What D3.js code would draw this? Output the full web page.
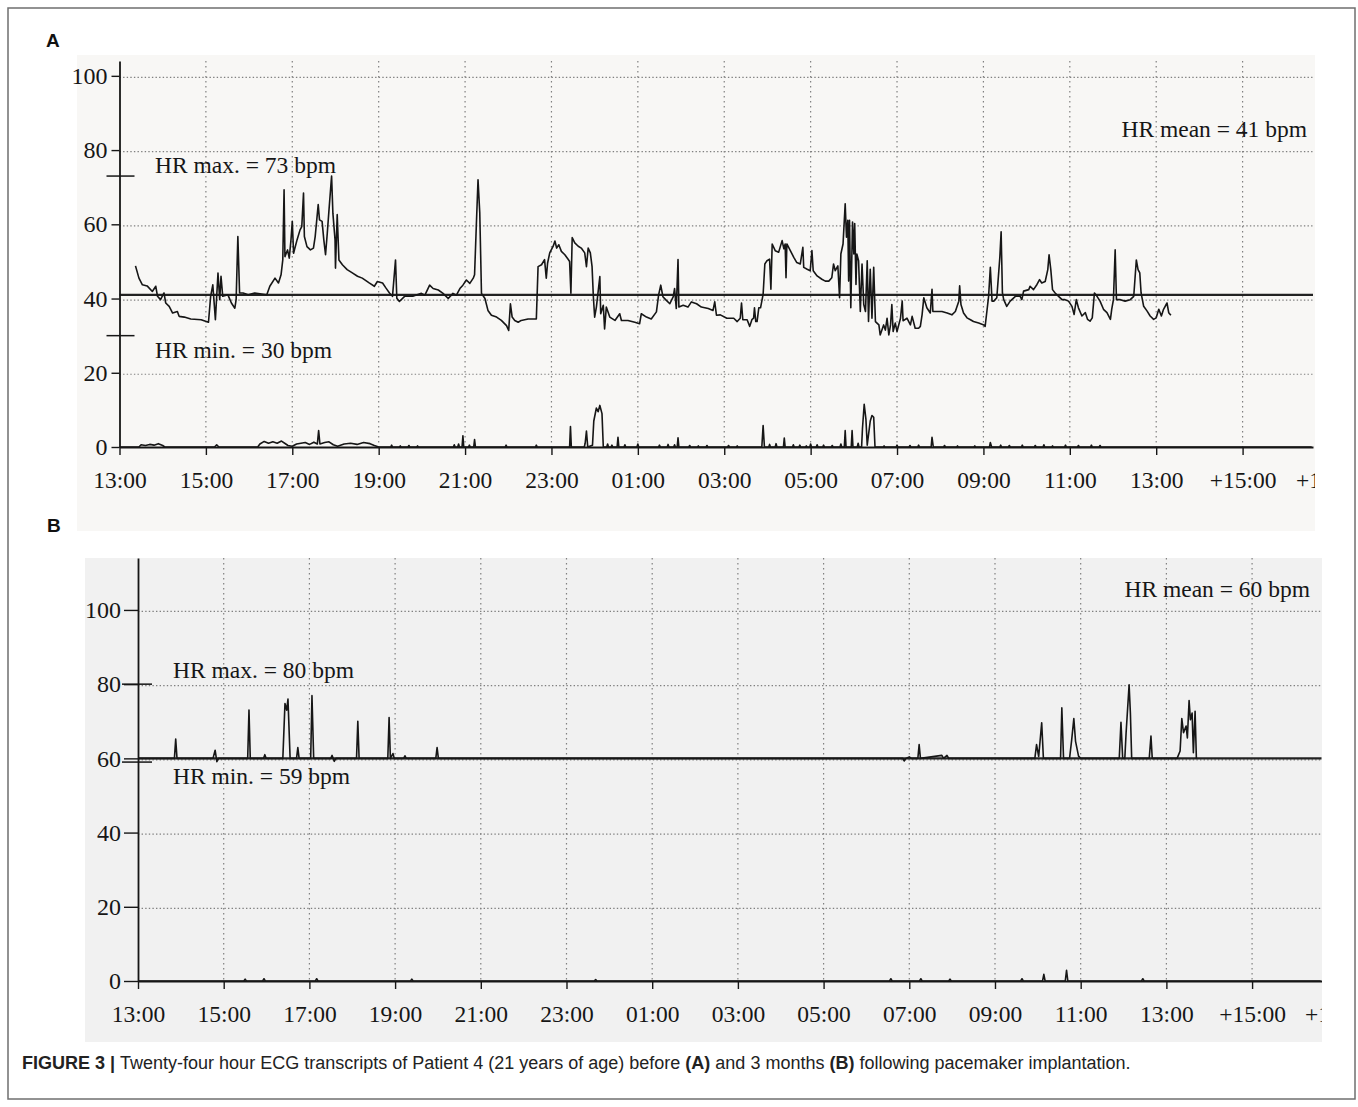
<!DOCTYPE html>
<html><head><meta charset="utf-8">
<script src="https://cdn.jsdelivr.net/npm/d3@7"></script>
<style>body{margin:0;background:#fff}svg{display:block}</style>
</head><body>
<svg id="fig" width="1358" height="1107"></svg>
<script>
// ---------- DATA ----------
const hourOffsets = [0,2,4,6,8,10,12,14,16,18,20,22,24,26,28];
const hourLabels = ["13:00","15:00","17:00","19:00","21:00","23:00","01:00","03:00","05:00","07:00","09:00","11:00","13:00","+15:00","+17:00"];
const hrTicks = [0,20,40,60,80,100];
const statsA = [73, 30, 41]; // max, min, mean
const statsB = [80, 59, 60];

// Panel A heart rate trace: [hours since 13:00, bpm]
const hrA = [
[0.37,48.8],[0.45,45.5],[0.53,43.7],[0.64,43.4],[0.76,41.9],[0.84,43.3],[0.88,40.6],[0.95,39.7],[1.03,41.5],[1.07,38.8],[1.15,37.9],[1.23,36.1],[1.34,36.5],[1.38,35.2],[1.50,35],[1.65,34.5],[1.89,34.3],[2.06,33.6],[2.11,40.6],[2.16,43.7],[2.22,34.3],[2.28,46.9],[2.32,39.7],[2.35,46],[2.39,40.6],[2.51,41],[2.59,38.8],[2.67,37.4],[2.70,39.7],[2.74,56.7],[2.78,41.5],[2.86,41.5],[2.98,41],[3.13,41.5],[3.29,41.2],[3.41,41],[3.48,43.3],[3.60,45.5],[3.68,44.2],[3.74,46.4],[3.78,50.4],[3.81,69.3],[3.83,51.3],[3.89,53.1],[3.93,50.9],[3.97,55.8],[4.00,60.8],[4.03,52.2],[4.11,55.8],[4.18,58.5],[4.22,59.4],[4.26,68.4],[4.28,56.7],[4.34,54],[4.42,53.1],[4.49,53.6],[4.53,56.7],[4.60,65.3],[4.63,61.2],[4.69,60.8],[4.73,55.8],[4.77,51.8],[4.81,57.6],[4.85,63.9],[4.91,73],[4.94,63],[4.99,55.8],[5.00,48.2],[5.04,62.6],[5.08,50.4],[5.16,49.1],[5.27,47.8],[5.39,46.9],[5.51,46],[5.62,45.5],[5.78,44.2],[5.90,43.3],[5.97,44.6],[6.09,44.2],[6.17,42.8],[6.25,41.5],[6.32,40.6],[6.39,50.4],[6.42,40.1],[6.48,39.2],[6.60,40.6],[6.79,40.6],
[6.99,41.4],[7.07,40.9],[7.18,43.6],[7.26,42.7],[7.38,42.3],[7.49,41.4],[7.61,40],[7.72,41.4],[7.80,40.9],[7.88,42.7],[7.95,43.6],[8.03,45],[8.11,44.1],[8.19,45.5],[8.22,46.4],[8.26,59.5],[8.30,72],[8.34,63.2],[8.38,41.4],[8.46,40],[8.53,36.8],[8.61,35.5],[8.73,35],[8.84,34.1],[8.96,32.7],[9.01,31.4],[9.05,38.6],[9.09,35],[9.15,34.1],[9.23,33.6],[9.30,34.1],[9.46,34.5],[9.65,34.5],[9.69,48.6],[9.77,49.1],[9.84,50.5],[9.88,45.5],[9.91,49.5],[9.96,52.3],[10.04,54.1],[10.08,55.5],[10.12,53.6],[10.17,54.5],[10.23,52.7],[10.31,51.8],[10.39,50.5],[10.42,50],[10.45,41.4],[10.48,56.4],[10.54,55],[10.62,54.1],[10.69,53.6],[10.77,52.3],[10.81,48.6],[10.85,53.6],[10.90,52.3],[10.94,48.6],[10.97,40.5],[11.00,35],[11.04,37.7],[11.12,45.9],[11.14,35.9],[11.20,38.2],[11.23,31.8],[11.27,37.7],[11.35,35],[11.47,34.1],[11.58,35.9],[11.62,34.1],[11.77,34.1],[11.93,33.6],[12.04,33.2],[12.08,35.9],[12.20,35],[12.31,34.5],[12.43,36.4],[12.48,40.9],[12.53,43.6],[12.58,40.5],[12.66,39.5],[12.74,38.6],[12.82,40.5],[12.85,42.7],[12.89,37.3],[12.93,50.5],[12.95,37.7],[13.05,38.2],[13.16,37.7],[13.24,39.1],[13.36,38.6],[13.47,37.7],[13.63,37.3],[13.74,36.8],[13.78,39.1],[13.82,35.5],
[13.91,35.6],[14.06,34.7],[14.22,34.7],[14.30,33.8],[14.37,34.7],[14.40,38.8],[14.43,34.3],[14.53,34.3],[14.59,32.5],[14.64,34.3],[14.68,34.7],[14.70,37.5],[14.73,33.8],[14.76,33.8],[14.80,37.5],[14.84,37.5],[14.87,39.3],[14.90,41.1],[14.94,49.3],[14.99,50.2],[15.05,50.6],[15.08,42.5],[15.11,54.7],[15.18,52.9],[15.26,52.5],[15.34,55.6],[15.38,53.4],[15.41,54.7],[15.43,45.6],[15.45,54.7],[15.53,52.9],[15.61,51.1],[15.68,49.7],[15.76,49.3],[15.82,53.8],[15.84,48.4],[15.92,47.9],[15.99,47.5],[16.03,52.9],[16.06,47.5],[16.15,46.1],[16.26,45.2],[16.34,44.7],[16.42,44.7],[16.49,45.6],[16.53,49.3],[16.57,47.5],[16.63,48.8],[16.67,40.2],[16.70,52],[16.75,54.7],[16.80,65.5],[16.83,56.5],[16.86,61.1],[16.88,44.7],[16.90,61.1],[16.93,37.5],[16.97,60.6],[17.00,52],[17.02,60.2],[17.05,43.8],[17.07,52],[17.11,50.2],[17.15,36.5],[17.19,49.3],[17.23,38.4],[17.27,36.5],[17.31,50.2],[17.34,33.8],[17.38,47.9],[17.42,34.7],[17.46,48.4],[17.50,33.8],[17.58,32.9],[17.61,30.2],[17.69,32.9],[17.73,31.5],[17.77,34.7],[17.81,30.2],[17.85,32.9],[17.88,38.4],[17.91,31.1],[17.96,33.4],[18.00,31.1],[18.08,34.7],[18.12,39.3],[18.14,34],[18.23,34.7],[18.31,32.9],[18.35,35.2],[18.42,32],[18.50,32],[18.54,32.5],[18.58,35.6],[18.62,40.2],[18.69,37.5],[18.77,36.1],[18.81,42.5],[18.83,36.5],[18.93,36.5],[19.04,36.5],[19.16,36.1],[19.27,35.6],[19.35,36.5],[19.43,39.3],[19.45,43.4],[19.48,38.4],[19.54,36.1],[19.62,34.8],[19.70,34.3],[19.77,33.8],[19.89,33.4],[20.01,32.9],[20.04,32.5],[20.08,36.5],[20.12,40.6],[20.16,48.4],[20.20,39.3],[20.24,39.3],[20.31,40.2],[20.38,51.1],[20.41,58],
[20.44,41.5],[20.47,39.7],[20.54,37.9],[20.62,39.3],[20.74,40.6],[20.85,40.6],[20.89,39.7],[20.93,42],[21.05,42.4],[21.08,43.3],[21.16,42.4],[21.24,43.8],[21.30,45.1],[21.35,44.2],[21.43,44.6],[21.49,47.8],[21.52,51.8],[21.56,47.8],[21.60,42.4],[21.66,41.5],[21.74,40.6],[21.82,39.7],[21.89,39.7],[21.97,39.3],[22.05,37.9],[22.10,35.7],[22.15,39.7],[22.20,37.5],[22.28,35.3],[22.36,36.2],[22.41,34.4],[22.47,33.9],[22.52,34.8],[22.57,41.5],[22.63,40.6],[22.70,39.3],[22.78,37.1],[22.86,36.2],[22.94,34.4],[22.97,37.1],[23.01,39.7],[23.05,53.1],[23.08,39.7],[23.17,39.7],[23.28,39.3],[23.40,39.7],[23.48,40.6],[23.54,50.4],[23.58,47.8],[23.62,46.9],[23.65,41.5],[23.71,37.9],[23.79,36.6],[23.86,35.3],[23.94,34.4],[24.00,34.8],[24.06,37.1],[24.12,35.3],[24.17,37.1],[24.25,38.8],[24.29,36.2],[24.34,35.5]
];

// Panel A lower trace (near zero)
const activityA = [
[0.0,0],[0.45,0],[0.5,0.6],[0.6,0.4],[0.7,0.7],[0.8,0.5],[0.9,0.9],[1.0,0.4],[1.05,0],
[2.2,0],[2.25,0.6],[2.3,0],
[3.2,0],[3.25,0.8],[3.35,1.5],[3.45,1.0],[3.55,1.4],[3.65,1.0],[3.75,1.6],[3.85,0.8],[3.9,0.4],[4.0,0.2],[4.1,0.8],[4.2,1.0],[4.3,1.2],[4.4,0.7],[4.5,1.3],[4.58,0.8],[4.61,4.4],[4.64,0.8],[4.75,1.2],[4.85,1.4],[4.95,0.6],[5.05,0.2],[5.2,0.8],[5.35,1.0],[5.5,0.7],[5.65,1.2],[5.8,0.9],[5.9,0.4],[6.0,0],
[6.28,0],[6.3,0.5],[6.32,0],[6.48,0],[6.5,0.3],[6.52,0],[6.68,0],[6.7,0.4],[6.72,0],[6.88,0],[6.9,0.3],[6.92,0],
[7.73,0],[7.75,0.6],[7.77,0],[7.83,0],[7.85,0.8],[7.87,0],[7.93,0],[7.95,3.0],[7.97,0],[8.08,0],[8.1,0.5],[8.12,0],[8.2,0],[8.22,2.0],[8.24,0],
[8.93,0],[8.95,0.5],[8.97,0],[9.63,0],[9.65,0.5],[9.67,0],[10.42,0],[10.44,5.5],[10.46,0],[10.76,0],[10.78,1.0],[10.81,4.3],[10.84,0],[10.95,0.5],[10.98,7.0],[11.04,10.5],[11.08,9.5],[11.12,11.2],[11.17,9.0],[11.2,0],
[11.28,0],[11.3,0.8],[11.32,0],[11.38,0],[11.4,0.5],[11.42,0],[11.52,0],[11.54,2.6],[11.56,0],[11.68,0],[11.7,0.6],[11.72,0],[11.98,0],[12.0,0.8],[12.02,0],[12.48,0],[12.5,0.5],[12.52,0],[12.68,0],[12.7,0.7],[12.72,0],[12.83,0],[12.85,0.6],[12.87,0],[12.91,0],[12.93,2.5],[12.95,0],[13.18,0],[13.2,0.4],[13.22,0],[13.38,0],[13.4,0.3],[13.42,0],[13.58,0],[13.6,0.4],[13.62,0],
[14.08,0],[14.1,0.4],[14.12,0],[14.28,0],[14.3,0.3],[14.32,0],[14.87,0],[14.9,5.8],[14.93,0],[15.03,0],[15.05,0.7],[15.07,0],[15.18,0],[15.2,0.9],[15.22,0],[15.37,0],[15.39,2.4],[15.41,0],[15.58,0],[15.6,0.6],[15.62,0],[15.73,0],[15.75,0.5],[15.77,0],[15.88,0],[15.9,0.3],[15.92,0],[15.98,0],[16.0,0.8],[16.02,0],[16.13,0],[16.15,0.6],[16.17,0],[16.28,0],[16.3,0.5],[16.32,0],[16.48,0],[16.5,0.4],[16.52,0],[16.68,0],[16.7,0.8],[16.72,0],[16.78,0],[16.8,4.4],[16.82,0],[16.94,0],[16.96,4.4],[16.98,0],[17.08,0],[17.1,1.0],[17.12,0],[17.18,0],[17.2,5.0],[17.24,11.5],[17.28,7.5],[17.31,0.5],[17.38,7.0],[17.42,8.5],[17.46,8.0],[17.49,0],
[17.68,0],[17.7,0.3],[17.72,0],[17.98,0],[18.0,0.5],[18.02,0],[18.28,0],[18.3,0.4],[18.32,0],[18.48,0],[18.5,0.5],[18.52,0],[18.79,0],[18.81,2.6],[18.84,0],[19.08,0],[19.1,0.4],[19.12,0],[19.38,0],[19.4,0.3],[19.42,0],[19.78,0],[19.8,0.3],[19.82,0],[20.14,0],[20.16,1.2],[20.19,0],[20.38,0],[20.4,0.5],[20.42,0],[20.58,0],[20.6,0.4],[20.62,0],[20.88,0],[20.9,0.5],[20.92,0],[21.18,0],[21.2,0.4],[21.22,0],[21.38,0],[21.4,0.6],[21.42,0],[21.58,0],[21.6,0.3],[21.62,0],[21.88,0],[21.9,0.5],[21.92,0],[22.18,0],[22.2,0.4],[22.22,0],[22.48,0],[22.5,0.5],[22.52,0],[22.68,0],[22.7,0.4],[22.72,0],[27.6,0]
];

// Panel B heart rate trace
const hrB = [
[0,60],[0.85,60],[0.88,65.2],[0.91,60],[1.75,60],[1.8,62.2],[1.84,59.1],[1.88,60],[2.56,60],[2.59,73],[2.62,60],[2.93,60],[2.96,61],[2.99,60],[3.38,60],[3.43,74.8],[3.47,73],[3.5,76],[3.55,60],[3.7,60],[3.73,62.9],[3.76,60],[4.03,60],[4.06,76.9],[4.1,60],[4.5,60],[4.53,60.8],[4.58,59.2],[4.62,60],[5.1,60],[5.13,70],[5.16,60],[5.83,60],[5.86,71],[5.89,60],[5.95,61.3],[5.98,60],[6.2,60],[6.23,60.7],[6.26,60],[6.95,60],[6.98,62.9],[7.01,60],
[17.85,60],[17.88,59.3],[17.92,60],[18.0,60.4],[18.05,60],[18.2,60],[18.23,63.7],[18.26,60],[18.76,60.8],[18.8,60],[18.88,60.8],[18.92,60],[20.93,60],[20.97,63.7],[21.02,60.5],[21.09,69.6],[21.13,60],[21.53,60],[21.56,73.6],[21.6,60],[21.74,60],[21.79,65],[21.84,70.7],[21.88,64.6],[21.95,60.6],[22.0,60],[22.9,60],[22.94,69.7],[22.98,60],[23.03,60],[23.06,66.9],[23.13,79.8],[23.16,72.2],[23.19,60],[23.6,60],[23.64,66],[23.67,60],[24.25,60],[24.32,62],[24.36,70.7],[24.4,66.9],[24.46,68.7],[24.49,65.5],[24.53,75.6],[24.56,70.4],[24.6,72.2],[24.63,61.5],[24.67,72.7],[24.7,60]
];

// Panel B lower trace
const activityB = [
[0,0],[2.47,0],[2.5,0.5],[2.53,0],[2.91,0],[2.94,0.6],[2.97,0],[4.14,0],[4.17,0.6],[4.2,0],[6.36,0],[6.39,0.5],[6.42,0],[10.65,0],[10.68,0.4],[10.71,0],[17.54,0],[17.57,0.6],[17.6,0],[18.24,0],[18.27,0.6],[18.3,0],[18.92,0],[18.95,0.5],[18.98,0],[20.6,0],[20.63,0.6],[20.66,0],[21.11,0],[21.14,1.8],[21.17,0],[21.64,0],[21.67,2.9],[21.7,0],[23.42,0],[23.45,0.6],[23.48,0],[27.6,0]
];

// ---------- DRAWING ----------
const svg = d3.select("#fig");
const SERIF = "'Liberation Serif', 'Times New Roman', serif";
const INK = "#161616";

svg.append("rect").attr("x", 8).attr("y", 8).attr("width", 1347).attr("height", 1091)
  .attr("fill", "#fff").attr("stroke", "#6f6f6f").attr("stroke-width", 1.5);

function drawPanel(p) {
  const g = svg.append("g");
  g.append("rect").attr("x", p.bg[0]).attr("y", p.bg[1])
    .attr("width", p.bg[2] - p.bg[0]).attr("height", p.bg[3] - p.bg[1]).attr("fill", p.bgColor);

  const x = d3.scaleLinear().domain([0, p.tMax]).range([p.x0, p.x1]);
  const y = d3.scaleLinear().domain([0, p.hrTop]).range([p.y0, p.yTop]);

  const clipId = "clip" + p.name;
  svg.append("clipPath").attr("id", clipId).append("rect")
    .attr("x", 0).attr("y", -2000).attr("width", p.bg[2]).attr("height", 4000);

  // gridlines
  g.selectAll(null).data(hrTicks.filter(v => v > 0)).join("line")
    .attr("x1", p.x0).attr("x2", p.x1)
    .attr("y1", d => y(d) + 1.5).attr("y2", d => y(d) + 1.5)
    .attr("stroke", "#808080").attr("stroke-width", 1.2).attr("stroke-dasharray", "1.4 2.2");
  g.selectAll(null).data(hourOffsets.filter(h => h > 0 && h < p.tMax)).join("line")
    .attr("x1", d => x(d)).attr("x2", d => x(d))
    .attr("y1", p.yTop).attr("y2", p.y0)
    .attr("stroke", "#808080").attr("stroke-width", 1.2).attr("stroke-dasharray", "1.4 3.6");

  // mean line
  g.append("line").attr("x1", p.x0).attr("x2", p.x1)
    .attr("y1", y(p.stats[2])).attr("y2", y(p.stats[2]))
    .attr("stroke", "#222").attr("stroke-width", 2.4);

  const line = d3.line().x(d => x(d[0])).y(d => y(d[1]));
  g.append("path").datum(p.act).attr("d", line)
    .attr("fill", "none").attr("stroke", INK).attr("stroke-width", 1.6).attr("stroke-linejoin", "round");
  g.append("path").datum(p.hr).attr("d", line)
    .attr("fill", "none").attr("stroke", INK).attr("stroke-width", 1.6).attr("stroke-linejoin", "round");

  // y axis
  const ya = g.append("g").attr("transform", `translate(${p.x0},0)`)
    .call(d3.axisLeft(y).tickValues(hrTicks).tickSize(p.yTick).tickSizeOuter(0).tickPadding(p.yPad));
  ya.select(".domain").attr("stroke", INK).attr("stroke-width", 1.8);
  ya.selectAll(".tick line").attr("stroke", INK).attr("stroke-width", 1.4);
  ya.selectAll("text").attr("font-family", SERIF).attr("font-size", 24).attr("fill", INK);

  // x axis
  const xa = g.append("g").attr("transform", `translate(0,${p.y0})`).attr("clip-path", `url(#${clipId})`)
    .call(d3.axisBottom(x).tickValues(hourOffsets).tickFormat((d, i) => hourLabels[i])
      .tickSize(8).tickSizeOuter(0).tickPadding(16));
  xa.select(".domain").attr("stroke", INK).attr("stroke-width", 1.8);
  xa.selectAll(".tick line").attr("stroke", INK).attr("stroke-width", 1.4);
  xa.selectAll("text").attr("font-family", SERIF).attr("font-size", 23.5).attr("fill", INK);

  // max / min markers
  [p.stats[0], p.stats[1]].forEach(v => {
    g.append("line").attr("x1", p.x0 + p.mk[0]).attr("x2", p.x0 + p.mk[1])
      .attr("y1", y(v)).attr("y2", y(v)).attr("stroke", INK).attr("stroke-width", 1.5);
  });

  const t = (tx, ty, s, anchor) => g.append("text").attr("x", tx).attr("y", ty)
    .attr("font-family", SERIF).attr("font-size", 23.5).attr("fill", INK)
    .attr("text-anchor", anchor || "start").text(s);
  t(p.lblX, p.maxY, `HR max. = ${p.stats[0]} bpm`);
  t(p.lblX, p.minY, `HR min. = ${p.stats[1]} bpm`);
  t(p.meanX, p.meanY, `HR mean = ${p.stats[2]} bpm`, "end");

  svg.append("text").attr("x", p.letter[0]).attr("y", p.letter[1])
    .attr("font-family", "'Liberation Sans', Arial, sans-serif").attr("font-weight", "bold")
    .attr("font-size", 19).attr("fill", "#111").text(p.name);
}

drawPanel({
  name: "A", bg: [77, 55, 1315, 531], bgColor: "#f8f7f5",
  tMax: 27.63, x0: 119.5, x1: 1313, hrTop: 104, y0: 447, yTop: 61,
  yTick: 8, yPad: 4, mk: [-13, 15],
  hr: hrA, act: activityA, stats: statsA,
  lblX: 155, maxY: 173, minY: 358, meanX: 1307, meanY: 137,
  letter: [46, 47]
});

drawPanel({
  name: "B", bg: [85, 558, 1322, 1042], bgColor: "#f1f1f1",
  tMax: 27.62, x0: 138, x1: 1321.5, hrTop: 114, y0: 981, yTop: 558,
  yTick: 14, yPad: 3, mk: [-16, 14],
  hr: hrB, act: activityB, stats: statsB,
  lblX: 173, maxY: 678, minY: 784, meanX: 1310, meanY: 597,
  letter: [47, 532]
});

// caption
const cap = svg.append("text").attr("x", 22).attr("y", 1069)
  .attr("font-family", "'Liberation Sans', Arial, sans-serif").attr("font-size", 18).attr("fill", "#222");
cap.append("tspan").attr("font-weight", "bold").text("FIGURE 3 | ");
cap.append("tspan").text("Twenty-four hour ECG transcripts of Patient 4 (21 years of age) before ");
cap.append("tspan").attr("font-weight", "bold").text("(A)");
cap.append("tspan").text(" and 3 months ");
cap.append("tspan").attr("font-weight", "bold").text("(B)");
cap.append("tspan").text(" following pacemaker implantation.");
</script>
</body></html>
